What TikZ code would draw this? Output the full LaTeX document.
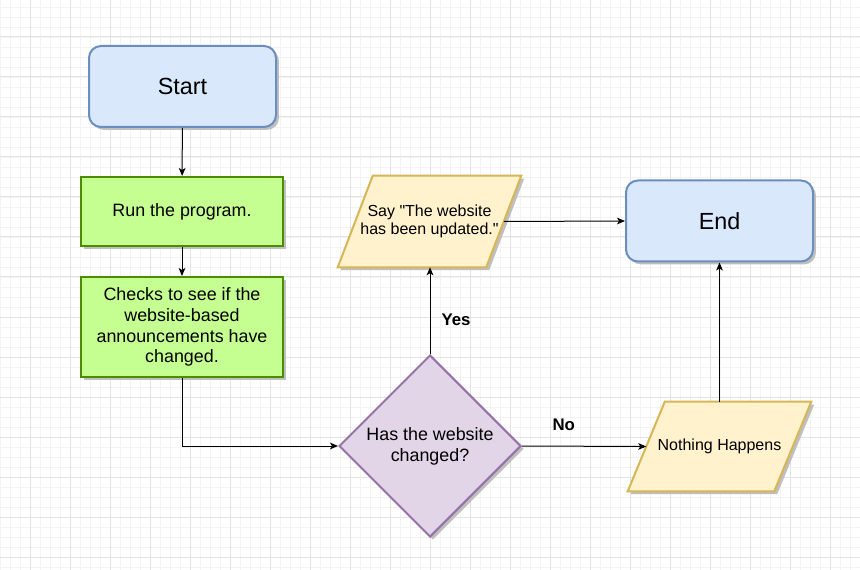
\documentclass[tikz,border=0pt]{standalone}
\usepackage{fontspec}
\setmainfont{Liberation Sans}[Ligatures=TeXOff]
\usetikzlibrary{shapes.geometric,shadows,arrows.meta}
\definecolor{blueF}{HTML}{DAE8FC}
\definecolor{blueS}{HTML}{6C8EBF}
\definecolor{greenF}{RGB}{198,255,145}
\definecolor{greenS}{RGB}{75,140,0}
\definecolor{yelF}{HTML}{FFF2CC}
\definecolor{yelS}{HTML}{D6B656}
\definecolor{purF}{HTML}{E1D5E7}
\definecolor{purS}{HTML}{9673A6}
\definecolor{gridMinor}{HTML}{F3F3F3}
\definecolor{gridMajor}{HTML}{E3E3E3}
\pgfdeclarelayer{gridlayer}
\pgfdeclarelayer{shapelayer}
\pgfsetlayers{gridlayer,shapelayer,main}
\tikzset{
  shd/.style={drop shadow={shadow xshift=2.2pt,shadow yshift=-2.2pt,fill=black!25,opacity=1}},
  term/.style={shd,draw=blueS,fill=blueF,line width=1.5pt,rounded corners=9pt,
    minimum width=140.25pt,minimum height=60.75pt,inner sep=0pt,
    font=\fontsize{17.5}{20}\selectfont},
  proc/.style={shd,draw=greenS,fill=greenF,line width=1.5pt,
    minimum width=151.5pt,inner sep=0pt,align=center,
    font=\fontsize{13.4}{15.6}\selectfont},
  iobox/.style={rectangle,minimum width=137.25pt,inner sep=0pt,align=center,
    font=\fontsize{12}{13.8}\selectfont},
  ioshape/.style={shd,draw=yelS,fill=yelF,line width=1.5pt},
  dec/.style={shd,diamond,draw=purS,fill=purF,line width=1.5pt,aspect=1,
    minimum width=136.5pt,minimum height=136.5pt,inner sep=0pt,align=center,
    font=\fontsize{13.4}{15.6}\selectfont},
  conn/.style={line width=0.75pt,-{Stealth[length=6pt,width=5pt,inset=1.5pt]}},
  lbl/.style={font=\bfseries\fontsize{12.6}{14}\selectfont,inner sep=0pt},
}
\newcommand{\drawparal}[2]{%
  \begin{pgfonlayer}{shapelayer}
  \path[ioshape] (#1.south west) -- ([xshift=#2]#1.north west) -- (#1.north east)
    -- ([xshift=-#2]#1.south east) -- cycle;
  \end{pgfonlayer}}
\begin{document}
\begin{tikzpicture}[x=0.75pt,y=-0.75pt]
\useasboundingbox (0,0) rectangle (860,570);
\begin{pgfonlayer}{gridlayer}
\fill[white] (0,0) rectangle (860,570);
\foreach \x in {0,10,...,860} \draw[gridMinor,line width=0.6pt] (\x,0) -- (\x,570);
\foreach \y in {7,17,...,567} \draw[gridMinor,line width=0.6pt] (0,\y) -- (860,\y);
\foreach \x in {30,70,...,830} \draw[gridMajor,line width=0.75pt] (\x,0) -- (\x,570);
\foreach \y in {37,77,...,557} \draw[gridMajor,line width=0.75pt] (0,\y) -- (860,\y);
\end{pgfonlayer}

\node[term] (start) at (182.5,86.5) {Start};
\node[proc,minimum height=51.75pt] (run) at (182,211.5) {Run the program.};
\node[proc,minimum height=75pt] (checks) at (182,327) {Checks to see if the\\website-based\\announcements have\\changed.};
\node[dec] (dia) at (430,446) {Has the website\\changed?};
\node[iobox,minimum height=68.25pt] (say) at (429.5,221.5) {Say "The website\\has been updated."};
\drawparal{say}{26.25pt}
\node[term] (end) at (719.5,221) {End};
\node[iobox,minimum height=66.75pt] (nothing) at (719.5,446.5) {Nothing Happens};
\drawparal{nothing}{27.75pt}

\draw[conn] (start) -- (run);
\draw[conn] (run) -- (checks);
\draw[conn] (checks.south) |- (dia.west);
\draw[conn] (dia.north) -- (dia.north |- say.south)
  node[lbl,pos=0.4,xshift=19.5pt] (yes) {Yes};
\draw[conn] (dia.east) -- ([xshift=13.9pt]nothing.west)
  node[lbl,pos=0.336,yshift=15.75pt] (no) {No};
\draw[conn] ([xshift=-13.1pt]say.east) -- (end.west);
\draw[conn] (end.south |- nothing.north) -- (end.south);
\end{tikzpicture}
\end{document}
